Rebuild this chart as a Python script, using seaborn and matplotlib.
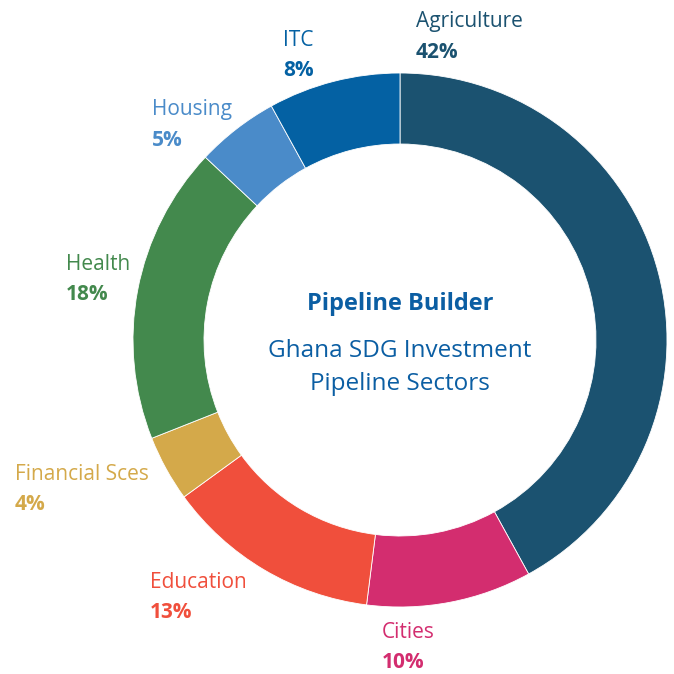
import matplotlib
matplotlib.use("Agg")
import matplotlib.pyplot as plt
import seaborn as sns

sectors = ["Agriculture", "Cities", "Education", "Financial Sces", "Health", "Housing", "ITC"]
shares = [42, 10, 13, 4, 18, 5, 8]
pct_labels = ["42%", "10%", "13%", "4%", "18%", "5%", "8%"]
colors = ["#1b5270", "#d32d6f", "#f04f3c", "#d4a94a", "#43894d", "#4a8bc9", "#0461a3"]

sns.set_theme(style="white")
plt.rcParams['font.family'] = ['Open Sans', 'DejaVu Sans']

fig = plt.figure(figsize=(6.74, 6.74), dpi=100)
ax = fig.add_axes([0, 0, 1, 1])

cx, cy, R = 400, 340, 267
ax.pie(shares, colors=colors, startangle=90, counterclock=False,
       center=(cx, -cy), radius=R,
       wedgeprops=dict(width=71, edgecolor='white', linewidth=0.6), frame=False)
ax.set_aspect('equal')
ax.set_xlim(0, 674)
ax.set_ylim(-674, 0)
ax.axis('off')

label_pos = {
    "Agriculture": (416, 22),
    "ITC": (283, 41),
    "Housing": (152, 110),
    "Health": (66, 264),
    "Financial Sces": (15, 474),
    "Education": (150, 583),
    "Cities": (382, 632),
}
for name, pct, col in zip(sectors, pct_labels, colors):
    x, y = label_pos[name]
    ax.text(x, -y, name, color=col, fontsize=15, ha='left', va='center')
    ax.text(x, -(y + 30), pct, color=col, fontsize=15, fontweight='bold', ha='left', va='center')

title_col = "#0b5ea3"
ax.text(cx, -304, "Pipeline Builder", color=title_col, fontsize=17, fontweight='bold', ha='center', va='center')
ax.text(cx, -351, "Ghana SDG Investment", color=title_col, fontsize=17.5, ha='center', va='center')
ax.text(cx, -384, "Pipeline Sectors", color=title_col, fontsize=17.5, ha='center', va='center')

fig.savefig("out.png", dpi=100, facecolor='white')
